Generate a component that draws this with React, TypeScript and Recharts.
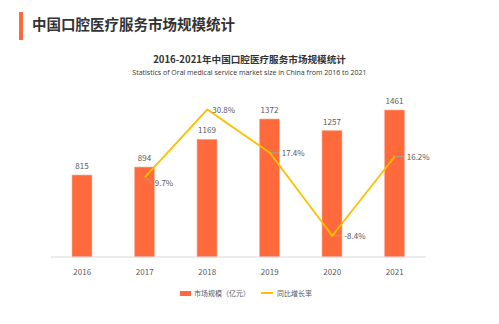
import { Bar, ComposedChart, LabelList, Line, XAxis, YAxis } from "recharts";

const years = ["2016", "2017", "2018", "2019", "2020", "2021"];
const marketSize = [815, 894, 1169, 1372, 1257, 1461];
const growthRate: (number | null)[] = [null, 9.7, 30.8, 17.4, -8.4, 16.2];

const data = years.map((year, i) => ({
  year,
  size: marketSize[i],
  growth: growthRate[i],
}));

const BAR = "#FF6A3D";
const LINE = "#FFC000";
const TEXT = "#595959";
const CJK = '"Noto Sans CJK SC", "Noto Sans", sans-serif';

function GrowthLabel(props: any) {
  const { x, y, value, index } = props;
  if (value == null) return null;
  const dy = index === 1 ? 6 : 0;
  const tx = index === 2 ? 5 : index === 1 ? 10 : 12;
  return (
    <g>
      {index !== 2 && (
        <line x1={x + 1} y1={y} x2={x + tx - 3} y2={y + dy} stroke="#a6a6a6" strokeWidth={0.8} />
      )}
      <text x={x + tx} y={y + dy + 3} fontSize={8} fill={TEXT} fontFamily={CJK}>
        {`${value}%`}
      </text>
    </g>
  );
}

export default function App() {
  return (
    <div style={{ position: "absolute", left: 0, top: 0, width: 499, height: 324, background: "#fff", fontFamily: CJK }}>
      <div style={{ position: "absolute", left: 19, top: 12, width: 4, height: 28, background: BAR }} />
      <div style={{ position: "absolute", left: 32, top: 14, fontSize: 14.5, fontWeight: 700, color: "#333", lineHeight: "20px" }}>
        中国口腔医疗服务市场规模统计
      </div>
      <div style={{ position: "absolute", left: 0, width: 499, top: 52, textAlign: "center", fontSize: 9.6, fontWeight: 700, color: "#333", lineHeight: "14px" }}>
        2016-2021年中国口腔医疗服务市场规模统计
      </div>
      <div style={{ position: "absolute", left: 0, width: 499, top: 68, textAlign: "center", fontSize: 7, color: "#333", lineHeight: "10px", fontFamily: '"Open Sans", sans-serif' }}>
        Statistics of Oral medical service market size in China from 2016 to 2021
      </div>
      <div style={{ position: "absolute", left: 0, top: 0 }}>
        <ComposedChart width={499} height={324} data={data} margin={{ top: 96, right: 73, bottom: 47, left: 51 }}>
          <XAxis
            dataKey="year"
            height={20}
            axisLine={{ stroke: "#d9d9d9" }}
            tickLine={false}
            tick={{ fontSize: 8, fill: TEXT, fontFamily: CJK }}
            tickMargin={6}
          />
          <YAxis yAxisId="left" hide domain={[0, 1600]} />
          <YAxis yAxisId="right" hide orientation="right" domain={[-15, 35]} />
          <Bar yAxisId="left" dataKey="size" fill={BAR} stroke="#FFB49A" strokeWidth={0.6} barSize={20} isAnimationActive={false}>
            <LabelList dataKey="size" position="top" offset={6} fontSize={8} fill={TEXT} fontFamily={CJK} />
          </Bar>
          <Line
            yAxisId="right"
            dataKey="growth"
            stroke={LINE}
            strokeWidth={1.8}
            dot={false}
            activeDot={false}
            isAnimationActive={false}
          >
            <LabelList dataKey="growth" content={<GrowthLabel />} />
          </Line>
        </ComposedChart>
      </div>
      <div style={{ position: "absolute", left: 180, top: 287, display: "flex", alignItems: "center", fontSize: 7, color: TEXT, lineHeight: "12px" }}>
        <span style={{ display: "inline-block", width: 11, height: 5, background: BAR, marginRight: 3 }} />
        <span>市场规模（亿元）</span>
        <span style={{ display: "inline-block", width: 12, height: 1.5, background: LINE, marginLeft: 11, marginRight: 4 }} />
        <span>同比增长率</span>
      </div>
    </div>
  );
}
